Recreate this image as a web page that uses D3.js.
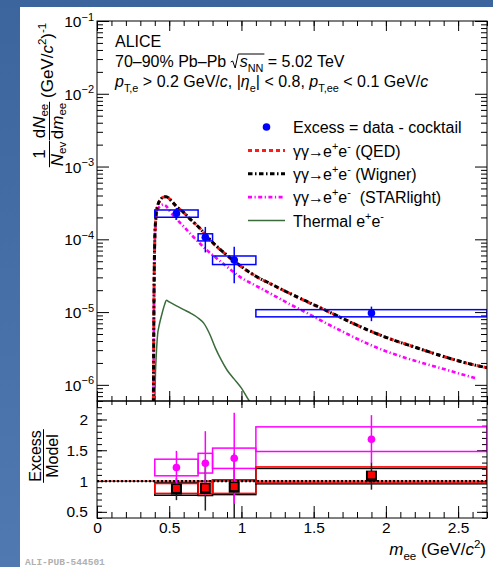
<!DOCTYPE html>
<html>
<head>
<meta charset="utf-8">
<script src="https://cdn.jsdelivr.net/npm/d3@7"></script>
<style>
  html, body { margin: 0; padding: 0; background: #fff; }
  svg { display: block; }
  text { white-space: pre; }
</style>
</head>
<body>
<svg id="chart" width="493" height="567"></svg>
<script>
// ---- mass bins of the measured excess ----
const binLo = [0.4, 0.7, 0.8, 1.1];
const binHi = [0.7, 0.8, 1.1, 2.7];
const binCenter = [0.55, 0.75, 0.95, 1.9];

// excess yield = data - cocktail
const excessYield = [2.27e-4, 1.07e-4, 5.2e-5, 9.7e-6];
const excessStat = [0.42e-4, 0.41e-4, 0.27e-4, 0.22e-5];
const excessSys = [0.26e-4, 0.12e-4, 0.07e-4, 0.11e-5];

// model curves
const qedMass = [0.390, 0.395, 0.400, 0.405, 0.41, 0.42, 0.44, 0.46, 0.48, 0.50, 0.52, 0.55, 0.60, 0.65, 0.70, 0.80, 0.90, 1.00, 1.10, 1.20, 1.30, 1.45, 1.60, 1.80, 2.00, 2.20, 2.40, 2.60, 2.70];
const qedYield = [4e-7, 2e-5, 1.0e-4, 1.7e-4, 2.25e-4, 2.9e-4, 3.5e-4, 3.8e-4, 3.85e-4, 3.62e-4, 3.28e-4, 2.82e-4, 2.33e-4, 1.85e-4, 1.5e-4, 9.0e-5, 6.0e-5, 4.2e-5, 3.1e-5, 2.45e-5, 1.95e-5, 1.4e-5, 1.02e-5, 6.6e-6, 4.5e-6, 3.3e-6, 2.45e-6, 1.9e-6, 1.72e-6];

const wignerMass = [0.390, 0.395, 0.400, 0.405, 0.41, 0.42, 0.44, 0.46, 0.48, 0.50, 0.52, 0.55, 0.60, 0.65, 0.70, 0.80, 0.90, 1.00, 1.10, 1.20, 1.30, 1.45, 1.60, 1.80, 2.00, 2.20, 2.40, 2.60, 2.70];
const wignerYield = [4e-7, 2e-5, 1.0e-4, 1.7e-4, 2.25e-4, 2.9e-4, 3.52e-4, 3.82e-4, 3.86e-4, 3.63e-4, 3.3e-4, 2.83e-4, 2.34e-4, 1.86e-4, 1.5e-4, 9.1e-5, 6.05e-5, 4.22e-5, 3.1e-5, 2.46e-5, 1.95e-5, 1.41e-5, 1.02e-5, 6.6e-6, 4.5e-6, 3.3e-6, 2.45e-6, 1.9e-6, 1.72e-6];

const starlightMass = [0.390, 0.395, 0.400, 0.405, 0.41, 0.42, 0.44, 0.46, 0.48, 0.50, 0.55, 0.60, 0.65, 0.70, 0.75, 0.80, 0.90, 1.00, 1.10, 1.20, 1.30, 1.45, 1.60, 1.70, 1.80, 2.00, 2.20, 2.40, 2.63];
const starlightYield = [4e-7, 2e-5, 9e-5, 1.5e-4, 2.0e-4, 2.5e-4, 2.9e-4, 3.0e-4, 2.85e-4, 2.5e-4, 1.9e-4, 1.5e-4, 1.17e-4, 9.3e-5, 7.4e-5, 6.1e-5, 4.2e-5, 2.95e-5, 2.3e-5, 1.8e-5, 1.4e-5, 9.8e-6, 6.8e-6, 5.4e-6, 4.3e-6, 2.9e-6, 2.15e-6, 1.65e-6, 1.22e-6];

const thermalMass = [0.400, 0.405, 0.41, 0.42, 0.43, 0.45, 0.47, 0.48, 0.50, 0.55, 0.60, 0.65, 0.70, 0.74, 0.78, 0.82, 0.86, 0.90, 0.95, 1.00, 1.05, 1.08];
const thermalYield = [5.5e-7, 1.5e-6, 2.5e-6, 5.0e-6, 6.5e-6, 9.5e-6, 1.3e-5, 1.45e-5, 1.38e-5, 1.22e-5, 1.08e-5, 9.6e-6, 8.3e-6, 7.0e-6, 5.0e-6, 3.2e-6, 2.2e-6, 1.6e-6, 1.2e-6, 9.0e-7, 6.2e-7, 5.2e-7];

// ratios excess / model
const ratioQED = [0.88, 0.89, 0.91, 1.10];
const ratioQEDSys = [0.08, 0.10, 0.11, 0.13];
const ratioWigner = [0.87, 0.88, 0.90, 1.08];
const ratioWignerStat = [0.18, 0.36, 0.55, 0.22];
const ratioWignerSys = [0.10, 0.115, 0.12, 0.125];
const ratioStarlight = [1.22, 1.29, 1.37, 1.68];
const ratioStarlightStat = [0.27, 0.52, 0.74, 0.39];
const ratioStarlightSys = [0.135, 0.16, 0.165, 0.2];

// axis ticks
const yDecades = [-6, -5, -4, -3, -2, -1];
const xTicks = [0, 0.5, 1, 1.5, 2, 2.5];
const ratioTicks = [0.5, 1, 1.5, 2];

const FONT = "'Liberation Sans', Arial, Helvetica, sans-serif";
const W = 493, H = 567;
const X0 = 97, X1 = 487, TOP = 21, MID = 401, BOT = 518;

const svg = d3.select("#chart").attr("font-family", FONT);
const defs = svg.append("defs");

// slide backdrop
const grad = defs.append("linearGradient").attr("id", "bg")
  .attr("x1", 0).attr("y1", 0).attr("x2", 0).attr("y2", 1);
grad.append("stop").attr("offset", "0%").attr("stop-color", "#3c659d");
grad.append("stop").attr("offset", "100%").attr("stop-color", "#5079b1");
svg.append("rect").attr("width", W).attr("height", H).attr("fill", "url(#bg)");
svg.append("rect").attr("x", 20).attr("y", 7).attr("width", W - 20).attr("height", H - 7).attr("fill", "#fff");

// scales
const x = d3.scaleLinear().domain([0, 2.7]).range([X0, X1]);
const y = d3.scaleLog().domain([6e-7, 0.1]).range([MID, TOP]);
const yr = d3.scaleLinear().domain([0.4, 2.3]).range([BOT, MID]);

defs.append("clipPath").attr("id", "clipTop").append("rect")
  .attr("x", X0).attr("y", TOP).attr("width", X1 - X0).attr("height", MID - TOP);
defs.append("clipPath").attr("id", "clipBot").append("rect")
  .attr("x", X0).attr("y", MID).attr("width", X1 - X0).attr("height", BOT - MID);

// rich text with sub/superscripts
function richText(parent, px, py, parts, fs, anchor, subShift) {
  const t = parent.append("text").attr("x", px).attr("y", py)
    .attr("font-size", fs).attr("text-anchor", anchor || "start").attr("fill", "#000");
  let shift = 0;
  parts.forEach(p => {
    const s = p.sub ? fs * (subShift || 0.32) : p.sup ? -fs * 0.42 : 0;
    const ts = t.append("tspan").attr("dy", s - shift).text(p.t);
    if (p.sub || p.sup) ts.attr("font-size", fs * 0.68);
    if (p.i) ts.attr("font-style", "italic");
    if (p.dx) ts.attr("dx", p.dx);
    shift = s;
  });
  return t;
}

function axis(gen, tx, ty, fs) {
  const g = svg.append("g").attr("transform", `translate(${tx},${ty})`).call(gen);
  g.select(".domain").remove();
  g.attr("font-family", FONT).attr("font-size", fs || 15.5);
  g.selectAll(".tick line").attr("stroke", "#000").attr("stroke-width", 1);
  g.selectAll(".tick text").attr("fill", "#000");
  return g;
}

// ---------------- upper panel ----------------
const yMajor = yDecades.map(e => Math.pow(10, e));
const yMinor = [];
for (let e = -7; e <= -2; e++) for (let k = 2; k <= 9; k++) {
  const v = k * Math.pow(10, e);
  if (v >= 6e-7 && v <= 0.1) yMinor.push(v);
}
const xMinor = d3.range(0, 28).map(i => i / 10);

axis(d3.axisLeft(y).tickValues(yMinor).tickSize(-6).tickFormat(""), X0, 0);
const gYL = axis(d3.axisLeft(y).tickValues(yMajor).tickSize(-12).tickPadding(3).tickFormat(""), X0, 0);
gYL.selectAll(".tick text").attr("dy", "0.36em").each(function (d) {
  const t = d3.select(this);
  t.text(null);
  t.append("tspan").text("10");
  t.append("tspan").attr("dy", -6.5).attr("font-size", 11).text("\u2212" + Math.abs(Math.round(Math.log10(d))));
});
axis(d3.axisRight(y).tickValues(yMinor).tickSize(-6).tickFormat(""), X1, 0);
axis(d3.axisRight(y).tickValues(yMajor).tickSize(-12).tickFormat(""), X1, 0);
axis(d3.axisTop(x).tickValues(xMinor).tickSize(-5).tickFormat(""), 0, TOP);
axis(d3.axisTop(x).tickValues(xTicks).tickSize(-10).tickFormat(""), 0, TOP);
axis(d3.axisBottom(x).tickValues(xMinor).tickSize(-5).tickFormat(""), 0, MID);
axis(d3.axisBottom(x).tickValues(xTicks).tickSize(-10).tickFormat(""), 0, MID);

const topG = svg.append("g").attr("clip-path", "url(#clipTop)");
const curve = d3.line().x(d => x(d[0])).y(d => y(d[1])).curve(d3.curveMonotoneX);

const styles = {
  thermal: { stroke: "#3a6b3a", width: 1.5, dash: null },
  starlight: { stroke: "#ff00ff", width: 2.6, dash: "4 2.5 1.2 2.5" },
  qed: { stroke: "#ff1a1a", width: 3, dash: "4 3" },
  wigner: { stroke: "#000", width: 3, dash: "4.5 2.5 1.5 2.5" }
};
function drawCurve(mass, vals, st) {
  topG.append("path").datum(mass.map((m, i) => [m, vals[i]]))
    .attr("d", curve).attr("fill", "none")
    .attr("stroke", st.stroke).attr("stroke-width", st.width)
    .attr("stroke-dasharray", st.dash);
}
drawCurve(thermalMass, thermalYield, styles.thermal);
drawCurve(starlightMass, starlightYield, styles.starlight);
drawCurve(qedMass, qedYield, styles.qed);
drawCurve(wignerMass, wignerYield, styles.wigner);

const BLUE = "#0000ff";
binCenter.forEach((c, i) => {
  topG.append("rect")
    .attr("x", x(binLo[i])).attr("width", x(binHi[i]) - x(binLo[i]))
    .attr("y", y(excessYield[i] + excessSys[i]))
    .attr("height", y(excessYield[i] - excessSys[i]) - y(excessYield[i] + excessSys[i]))
    .attr("fill", "none").attr("stroke", BLUE).attr("stroke-width", 1.5);
  topG.append("line").attr("x1", x(c)).attr("x2", x(c))
    .attr("y1", y(excessYield[i] + excessStat[i])).attr("y2", y(excessYield[i] - excessStat[i]))
    .attr("stroke", BLUE).attr("stroke-width", 1.5);
  topG.append("circle").attr("cx", x(c)).attr("cy", y(excessYield[i])).attr("r", 3.8).attr("fill", BLUE);
});

svg.append("rect").attr("x", X0).attr("y", TOP).attr("width", X1 - X0).attr("height", MID - TOP)
  .attr("fill", "none").attr("stroke", "#000").attr("stroke-width", 1);

// header text
richText(svg, 115, 47, [{ t: "ALICE" }], 16);
const l2 = richText(svg, 115, 67, [
  { t: "70\u201390% Pb\u2013Pb " }, { t: "s", i: true, dx: 9 }, { t: "NN", sub: true }, { t: " = 5.02 TeV" }
], 16);
{
  const node = l2.node();
  const sx = node.getStartPositionOfChar(13).x;
  const ex = node.getEndPositionOfChar(15).x;
  const by = 67;
  svg.append("path")
    .attr("d", `M${sx - 9},${by - 5} L${sx - 7},${by - 6} L${sx - 4.5},${by + 1} L${sx - 1.5},${by - 13} L${ex + 1},${by - 13}`)
    .attr("fill", "none").attr("stroke", "#000").attr("stroke-width", 1);
}
richText(svg, 115, 87, [
  { t: "p", i: true }, { t: "T,e", sub: true }, { t: " > 0.2 GeV/" }, { t: "c", i: true },
  { t: ", |" }, { t: "\u03b7", i: true }, { t: "e", sub: true }, { t: "| < 0.8, " },
  { t: "p", i: true }, { t: "T,ee", sub: true }, { t: " < 0.1 GeV/" }, { t: "c", i: true }
], 16);

// legend
const LX0 = 248, LX1 = 285, LT = 293;
const legendRows = [127, 150.5, 173.8, 197.1, 220.6];
svg.append("circle").attr("cx", 266.5).attr("cy", legendRows[0]).attr("r", 3.8).attr("fill", BLUE);
richText(svg, LT, legendRows[0] + 6, [{ t: "Excess = data - cocktail" }], 16);
[["qed", " (QED)"], ["wigner", " (Wigner)"], ["starlight", "  (STARlight)"]].forEach((e, k) => {
  const st = styles[e[0]], ly = legendRows[k + 1];
  svg.append("line").attr("x1", LX0).attr("x2", LX1).attr("y1", ly).attr("y2", ly)
    .attr("stroke", st.stroke).attr("stroke-width", st.width).attr("stroke-dasharray", st.dash);
  richText(svg, LT, ly + 6, [{ t: "\u03b3\u03b3" }, { t: "\u2192", dx: -1 }, { t: "e", dx: -1 }, { t: "+", sup: true }, { t: "e" }, { t: "-", sup: true }, { t: e[1] }], 16);
});
svg.append("line").attr("x1", LX0).attr("x2", LX1).attr("y1", legendRows[4]).attr("y2", legendRows[4])
  .attr("stroke", styles.thermal.stroke).attr("stroke-width", styles.thermal.width);
richText(svg, LT, legendRows[4] + 6, [{ t: "Thermal e" }, { t: "+", sup: true }, { t: "e" }, { t: "-", sup: true }], 16);

// y-axis title (rotated; x attr = -screenY, y attr = screenX)
const yt = svg.append("g").attr("transform", "rotate(-90)");
function fraction(g, cu, num, den, fs, vNum, vLine, vDen, subShift) {
  const a = richText(g, cu, vNum, num, fs, "middle", subShift);
  const b = richText(g, cu, vDen, den, fs, "middle", subShift);
  const w = Math.max(a.node().getComputedTextLength(), b.node().getComputedTextLength()) + 2;
  g.append("line").attr("x1", cu - w / 2).attr("x2", cu + w / 2).attr("y1", vLine).attr("y2", vLine)
    .attr("stroke", "#000").attr("stroke-width", 1);
}
fraction(yt, -154, [{ t: "1" }], [{ t: "N", i: true }, { t: "ev", sub: true }], 17, 45, 49.5, 62.5, 0.22);
fraction(yt, -121, [{ t: "d" }, { t: "N", i: true }, { t: "ee", sub: true }],
  [{ t: "d" }, { t: "m", i: true }, { t: "ee", sub: true }], 17, 44.5, 49.5, 62.5, 0.22);
richText(yt, -98, 53, [{ t: "(GeV/" }, { t: "c", i: true }, { t: "2", sup: true }, { t: ")" }, { t: "-1", sup: true }], 17);

// ---------------- ratio panel ----------------
const rMinor = d3.range(4, 24).map(i => i / 10);
axis(d3.axisLeft(yr).tickValues(rMinor).tickSize(-5).tickFormat(""), X0, 0);
axis(d3.axisLeft(yr).tickValues(ratioTicks).tickSize(-10).tickPadding(9).tickFormat(d3.format("~g")), X0, 0);
axis(d3.axisRight(yr).tickValues(rMinor).tickSize(-5).tickFormat(""), X1, 0);
axis(d3.axisRight(yr).tickValues(ratioTicks).tickSize(-10).tickFormat(""), X1, 0);
axis(d3.axisTop(x).tickValues(xMinor).tickSize(-4).tickFormat(""), 0, MID);
axis(d3.axisTop(x).tickValues(xTicks).tickSize(-7).tickFormat(""), 0, MID);
axis(d3.axisBottom(x).tickValues(xMinor).tickSize(-6).tickFormat(""), 0, BOT);
axis(d3.axisBottom(x).tickValues(xTicks).tickSize(-12).tickPadding(4).tickFormat(d3.format("~g")), 0, BOT);

const botG = svg.append("g").attr("clip-path", "url(#clipBot)");
function sysBox(i, val, sys, color) {
  botG.append("rect")
    .attr("x", x(binLo[i])).attr("width", x(binHi[i]) - x(binLo[i]))
    .attr("y", yr(val + sys)).attr("height", yr(val - sys) - yr(val + sys))
    .attr("fill", "none").attr("stroke", color).attr("stroke-width", 1.5);
}
binCenter.forEach((c, i) => {
  sysBox(i, ratioStarlight[i], ratioStarlightSys[i], "#ff00ff");
  sysBox(i, ratioWigner[i], ratioWignerSys[i], "#000");
  sysBox(i, ratioQED[i], ratioQEDSys[i], "#ff0000");
});
// unity reference
botG.append("line").attr("x1", X0).attr("x2", X1).attr("y1", yr(1)).attr("y2", yr(1))
  .attr("stroke", "#ff0000").attr("stroke-width", 1.2);
botG.append("line").attr("x1", X0).attr("x2", X1).attr("y1", yr(1)).attr("y2", yr(1))
  .attr("stroke", "#000").attr("stroke-width", 2.2).attr("stroke-dasharray", "2 2");

binCenter.forEach((c, i) => {
  botG.append("line").attr("x1", x(c)).attr("x2", x(c))
    .attr("y1", yr(ratioWigner[i] + ratioWignerStat[i])).attr("y2", yr(ratioWigner[i] - ratioWignerStat[i]))
    .attr("stroke", "#222").attr("stroke-width", 1.5);
  botG.append("line").attr("x1", x(c)).attr("x2", x(c))
    .attr("y1", yr(ratioStarlight[i] + ratioStarlightStat[i])).attr("y2", yr(ratioStarlight[i] - ratioStarlightStat[i]))
    .attr("stroke", "#ff00ff").attr("stroke-width", 1.5);
  botG.append("rect").attr("x", x(c) - 5.5).attr("y", yr(ratioWigner[i]) - 5.5)
    .attr("width", 11).attr("height", 11).attr("fill", "#000");
  botG.append("rect").attr("x", x(c) - 3.5).attr("y", yr(ratioQED[i]) - 3.5)
    .attr("width", 7).attr("height", 7).attr("fill", "#ff0000");
  botG.append("circle").attr("cx", x(c)).attr("cy", yr(ratioStarlight[i])).attr("r", 3.8).attr("fill", "#ff00ff");
});

svg.append("rect").attr("x", X0).attr("y", MID).attr("width", X1 - X0).attr("height", BOT - MID)
  .attr("fill", "none").attr("stroke", "#000").attr("stroke-width", 1);

// ratio title
const rt = svg.append("g").attr("transform", "rotate(-90)");
fraction(rt, -456, [{ t: "Excess" }], [{ t: "Model" }], 16, 41, 43.5, 58);

// x title
richText(svg, 486, 555, [
  { t: "m", i: true }, { t: "ee", sub: true }, { t: " (GeV/" }, { t: "c", i: true }, { t: "2", sup: true }, { t: ")" }
], 17, "end");

// publication tag
svg.append("text").attr("x", 25).attr("y", 565)
  .attr("font-family", "'Liberation Mono', 'DejaVu Sans Mono', monospace")
  .attr("font-size", 9.5).attr("font-weight", "bold").attr("fill", "#b0b0b0")
  .text("ALI-PUB-544501");
</script>
</body>
</html>
